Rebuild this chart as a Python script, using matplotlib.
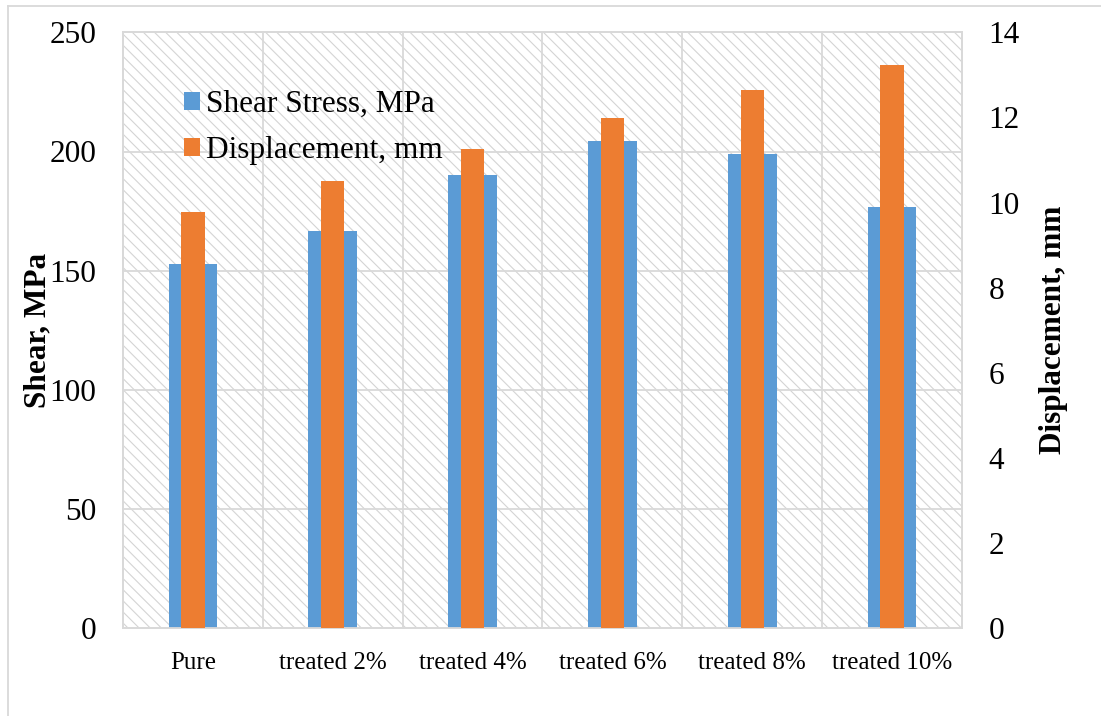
import matplotlib
matplotlib.use("Agg")
import matplotlib.pyplot as plt
import numpy as np
from matplotlib.patches import Patch, Rectangle
from matplotlib.lines import Line2D

categories = ["Pure", "treated 2%", "treated 4%", "treated 6%", "treated 8%", "treated 10%"]
shear_mpa = [152.7, 166.5, 190.3, 204.4, 198.8, 176.6]
displacement_mm = [9.78, 10.51, 11.26, 11.99, 12.64, 13.23]
shear_ticks = [0, 50, 100, 150, 200, 250]
disp_ticks = [0, 2, 4, 6, 8, 10, 12, 14]

BLUE = "#5B9BD5"
ORANGE = "#ED7D31"
GRID = "#d9d9d9"

plt.rcParams["font.family"] = ["Liberation Serif", "DejaVu Serif"]
plt.rcParams["hatch.linewidth"] = 0.8
plt.rcParams["hatch.color"] = "#d4d4d4"

W, H = 1101, 716
fig = plt.figure(figsize=(W / 100, H / 100), dpi=100)
fig.patch.set_facecolor("white")

left, right, top, bottom = 123, 962, 32.3, 628.3
ax = fig.add_axes([left / W, (H - bottom) / H, (right - left) / W, (bottom - top) / H])
ax2 = ax.twinx()

x = np.arange(len(categories))
ax.set_xlim(-0.5, len(categories) - 0.5)

# hatched plot-area background
bg = Rectangle((0, 0), 1, 1, transform=ax.transAxes, facecolor="white",
               edgecolor="#d4d4d4", linewidth=0, hatch="\\\\\\", zorder=0)
ax.add_patch(bg)

# grid: horizontal at each major tick, vertical at category boundaries
for t in shear_ticks:
    ax.axhline(t, color=GRID, lw=1.3, zorder=1)
for b in np.arange(-0.5, len(categories), 1.0):
    ax.axvline(b, color=GRID, lw=1.3, zorder=1)

ax.bar(x, shear_mpa, width=0.348, color=BLUE, zorder=3)
ax2.bar(x, displacement_mm, width=0.167, color=ORANGE, zorder=3)

ax.set_ylim(0, 250)
ax2.set_ylim(0, 14)
ax.set_yticks(shear_ticks)
ax2.set_yticks(disp_ticks)
ax.set_xticks(x)
ax.set_xticklabels(categories, fontsize=18)

ax.tick_params(axis="y", length=0, pad=19, labelsize=22.5)
ax2.tick_params(axis="y", length=0, pad=19, labelsize=22.5)
ax.tick_params(axis="x", length=0, pad=17)

for a in (ax, ax2):
    for s in a.spines.values():
        s.set_color(GRID)
        s.set_linewidth(1.3)

ax.set_ylabel("Shear, MPa", fontsize=22.5, fontweight="bold", labelpad=-2)
ax2.set_ylabel("Displacement, mm", fontsize=22.5, fontweight="bold", labelpad=14)

handles = [Patch(facecolor=BLUE, edgecolor="none", label="Shear Stress, MPa"),
           Patch(facecolor=ORANGE, edgecolor="none", label="Displacement, mm")]
leg = fig.legend(handles=handles, loc="upper left",
                 bbox_to_anchor=(184 / W, 1 - 90 / H), frameon=False,
                 fontsize=22.5, handlelength=0.52, handleheight=0.52,
                 handletextpad=0.17, labelspacing=0.55, borderpad=0,
                 borderaxespad=0)

# thin outer frame around the chart
fig.add_artist(Line2D([8 / W, 8 / W], [0, 1 - 6 / H], color=GRID, lw=1.3,
                      transform=fig.transFigure))
fig.add_artist(Line2D([8 / W, 1], [1 - 6 / H, 1 - 6 / H], color=GRID, lw=1.3,
                      transform=fig.transFigure))

fig.savefig("out.png", dpi=100, facecolor="white")
